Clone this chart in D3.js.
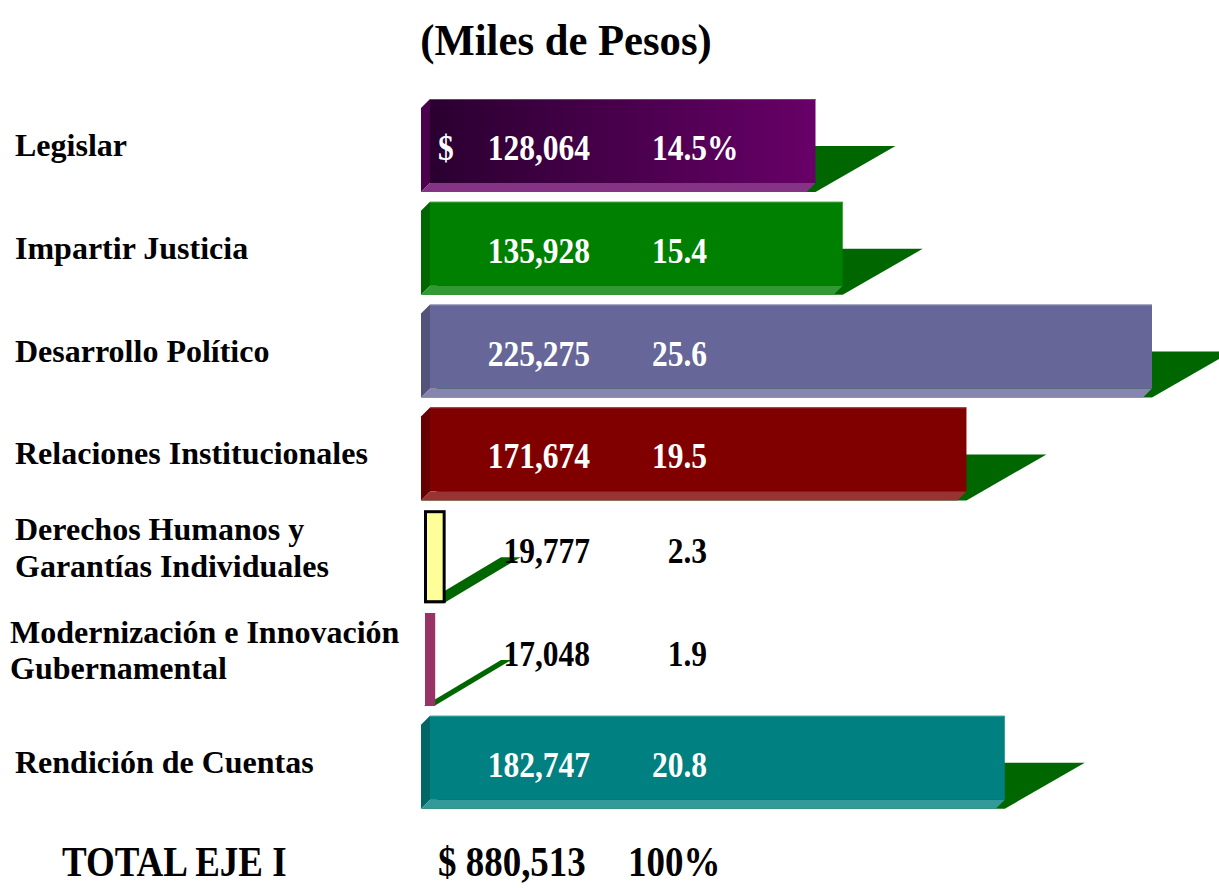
<!DOCTYPE html>
<html>
<head>
<meta charset="utf-8">
<script src="https://cdn.jsdelivr.net/npm/d3@7"></script>
<style>
  body { margin: 0; background: #fff; }
  svg { display: block; font-family: "Liberation Serif", "Times New Roman", serif; font-weight: bold; }
</style>
</head>
<body>
<div id="chart"></div>
<script>
// data
const categories = [
  "Legislar",
  "Impartir Justicia",
  "Desarrollo Político",
  "Relaciones Institucionales",
  "Derechos Humanos y|Garantías Individuales",
  "Modernización e Innovación|Gubernamental",
  "Rendición de Cuentas"
];
const amounts = [128064, 135928, 225275, 171674, 19777, 17048, 182747];
const percents = [14.5, 15.4, 25.6, 19.5, 2.3, 1.9, 20.8];
const totalAmount = 880513;
const totalPercent = 100;

// colours (front face of each bar)
const colors = ["#660066", "#008000", "#666699", "#800000", "#ffff99", "#993366", "#008080"];
const shadowColor = "#006600";

const W = 1219, H = 888;
const svg = d3.select("#chart").append("svg")
  .attr("width", W)
  .attr("height", H);

const defs = svg.append("defs");
const grad = defs.append("linearGradient").attr("id", "legGrad")
  .attr("x1", "0%").attr("x2", "100%").attr("y1", "0%").attr("y2", "0%");
grad.append("stop").attr("offset", "0%").attr("stop-color", "#2a0030");
grad.append("stop").attr("offset", "100%").attr("stop-color", "#680068");

const left = 421;   // outer left edge of bars
const depth = 9;    // bevel size
const shDx = 80, shDy = 46; // floor shadow direction

// truncated axis, as in the original drawing
const x = d3.scaleLinear().domain([14100, 225275]).range([0, 731]);
const y = d3.scaleBand().domain(categories).range([99, 808.8]).paddingInner(0.0953);

const fmt = d3.format(",");

// title
svg.append("text")
  .attr("transform", "translate(566,55) scale(0.97,1)")
  .attr("text-anchor", "middle")
  .attr("font-size", 44)
  .text("(Miles de Pesos)");

const rows = svg.selectAll("g.row")
  .data(categories)
  .join("g")
  .attr("class", "row");

rows.each(function (cat, i) {
  const g = d3.select(this);
  const top = y(cat);
  const bot = top + y.bandwidth();
  const w = x(amounts[i]);
  const x0 = left, x1 = left + w;
  const col = colors[i];
  const flat = w < 30;

  // floor shadow: the bottom edge swept up and to the right
  g.append("path")
    .attr("d", d3.line()([
      [x0 + (flat ? 3 : 0), bot], [x1 + (flat ? 3 : 0), bot],
      [x1 + shDx, bot - shDy], [x0 + shDx, bot - shDy]
    ]))
    .attr("fill", shadowColor);

  if (flat) {
    const outlined = i === 4;
    g.append("rect")
      .attr("x", x0 + (outlined ? 4.5 : 4))
      .attr("y", top + (outlined ? 1.5 : 0))
      .attr("width", w - (outlined ? 1 : 0))
      .attr("height", y.bandwidth() - (outlined ? 3 : 0))
      .attr("fill", col)
      .attr("stroke", outlined ? "#000" : "none")
      .attr("stroke-width", 3);
  } else {
    const sideCol = d3.interpolateRgb(col, "#000")(0.2);
    const bottomCol = d3.interpolateRgb(col, "#fff")(0.2);
    // left face
    g.append("path")
      .attr("d", d3.line()([[x0, top + depth], [x0 + depth, top], [x0 + depth, bot - depth], [x0, bot]]))
      .attr("fill", i === 0 ? "#4a004a" : sideCol);
    // bottom face
    g.append("path")
      .attr("d", d3.line()([[x0, bot], [x0 + depth, bot - depth], [x1, bot - depth], [x1 - depth, bot]]))
      .attr("fill", bottomCol);
    // front face
    g.append("rect")
      .attr("x", x0 + depth)
      .attr("y", top)
      .attr("width", w - depth)
      .attr("height", y.bandwidth() - depth)
      .attr("fill", i === 0 ? "url(#legGrad)" : col);
    // light top edge
    g.append("line")
      .attr("x1", x0 + depth).attr("x2", x1)
      .attr("y1", top + 0.5).attr("y2", top + 0.5)
      .attr("stroke", bottomCol).attr("stroke-width", 1);
  }

  // category label
  const lines = cat.split("|");
  const lab = g.append("text")
    .attr("font-size", 32)
    .attr("fill", "#000");
  if (lines.length === 1) {
    lab.append("tspan").attr("x", 15).attr("y", top + 57).text(lines[0]);
  } else {
    lines.forEach((t, k) => {
      lab.append("tspan").attr("x", i === 5 ? 10 : 15).attr("y", top + 30 + k * 36.5).text(t);
    });
  }

  // value labels
  const tc = flat ? "#000" : "#fff";
  const by = top + (flat ? 53 : 61);
  if (i === 0) {
    g.append("text")
      .attr("transform", `translate(438,${by}) scale(0.9,1)`)
      .attr("font-size", 35).attr("fill", tc)
      .text("$");
  }
  g.append("text")
    .attr("transform", `translate(590,${by}) scale(0.9,1)`)
    .attr("text-anchor", "end")
    .attr("font-size", 35).attr("fill", tc)
    .text(fmt(amounts[i]));
  g.append("text")
    .attr("transform", `translate(707,${by}) scale(0.9,1)`)
    .attr("text-anchor", "end")
    .attr("font-size", 35).attr("fill", tc)
    .text(percents[i].toFixed(1));
  if (i === 0) {
    g.append("text")
      .attr("transform", `translate(707,${by}) scale(0.9,1)`)
      .attr("font-size", 35).attr("fill", tc)
      .text("%");
  }
});

// total line
const totalY = 876;
svg.append("text")
  .attr("transform", `translate(62,${totalY}) scale(0.88,1)`)
  .attr("font-size", 42)
  .text("TOTAL EJE I");
svg.append("text")
  .attr("transform", `translate(438,${totalY}) scale(0.88,1)`)
  .attr("font-size", 42)
  .text("$ " + fmt(totalAmount));
svg.append("text")
  .attr("transform", `translate(628,${totalY}) scale(0.88,1)`)
  .attr("font-size", 42)
  .text(totalPercent + "%");
</script>
</body>
</html>
